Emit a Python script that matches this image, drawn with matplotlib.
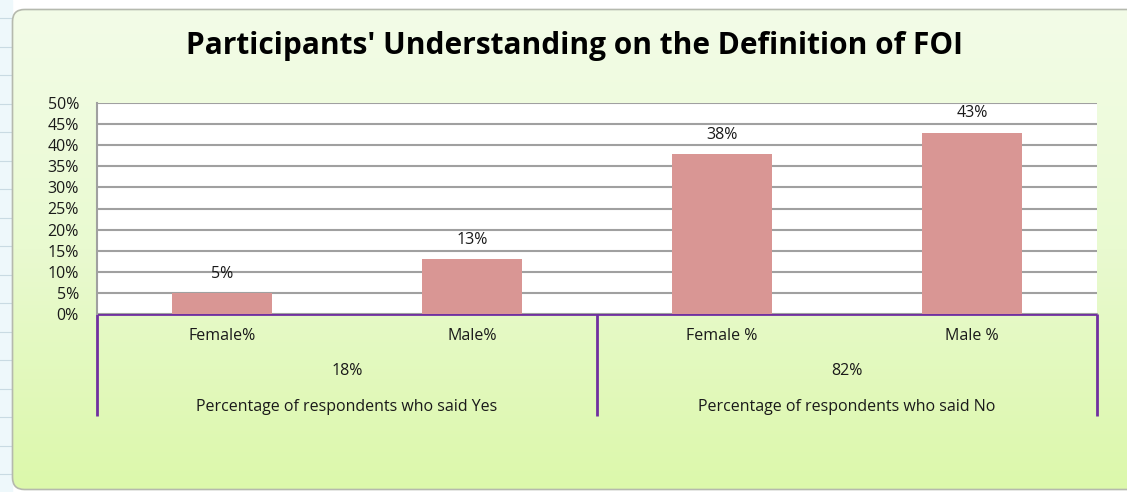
import matplotlib
matplotlib.use("Agg")
import matplotlib.pyplot as plt
import numpy as np
from matplotlib.patches import FancyBboxPatch
from matplotlib.colors import LinearSegmentedColormap

categories = ["Female%", "Male%", "Female %", "Male %"]
values = [0.05, 0.13, 0.38, 0.43]
value_labels = ["5%", "13%", "38%", "43%"]
groups = ["Percentage of respondents who said Yes", "Percentage of respondents who said No"]
group_totals = ["18%", "82%"]
yticks = [0.0, 0.05, 0.10, 0.15, 0.20, 0.25, 0.30, 0.35, 0.40, 0.45, 0.50]
title = "Participants' Understanding on the Definition of FOI"

FONT = "Open Sans"
FS = 11.5

W, H = 1127, 492
fig = plt.figure(figsize=(W / 100, H / 100), dpi=100)
fig.patch.set_facecolor("#ffffff")

# background layer (spreadsheet strip + chart area gradient)
bg = fig.add_axes([0, 0, 1, 1])
bg.set_xlim(0, W)
bg.set_ylim(H, 0)
bg.axis("off")
bg.add_patch(plt.Rectangle((0, 0), 12, H, color="#eef8fb", zorder=0))
for yy in np.arange(18, H, 28.5):
    bg.plot([0, 11], [yy, yy], color="#c9dbe3", lw=0.8, zorder=1)
cmap = LinearSegmentedColormap.from_list("g", ["#f3fce8", "#e9fad0", "#dcf8ab"])
grad = np.linspace(0, 1, 256).reshape(-1, 1)
im = bg.imshow(grad, cmap=cmap, extent=[12, W + 10, 490, 9], aspect="auto", zorder=2)
box = FancyBboxPatch((12.5, 9.5), W + 20, 480, boxstyle="round,pad=0,rounding_size=12",
                     facecolor="none", edgecolor="#b5b9ae", lw=1.2, zorder=3)
bg.add_patch(box)
im.set_clip_path(box)

fig.text(575 / W, 1 - 46 / H, title, ha="center", va="center", fontsize=21.5,
         fontweight="bold", family=FONT, color="#000000")

left, right = 97 / W, 1097 / W
top, bottom = 1 - 103 / H, 1 - 314 / H
ax = fig.add_axes([left, bottom, right - left, top - bottom])
ax.set_facecolor("#ffffff")
x = np.arange(len(categories))
bars = ax.bar(x, values, width=0.4, color="#d99694", zorder=3)
ax.set_xlim(-0.5, len(categories) - 0.5)
ax.set_ylim(0, 0.5)
ax.set_yticks(yticks)
ax.set_yticklabels([f"{int(round(v * 100))}%" for v in yticks], family=FONT,
                   fontsize=FS, color="#1a1a1a")
ax.tick_params(axis="y", length=0, pad=13)
ax.tick_params(axis="x", length=0, labelbottom=False)
ax.grid(axis="y", color="#a0a0a0", lw=1.5, zorder=1)
for s in ["top", "right"]:
    ax.spines[s].set_visible(False)
ax.spines["left"].set_color("#a0a0a0")
ax.spines["left"].set_linewidth(1.5)
ax.spines["bottom"].set_visible(False)
for xi, v, lab in zip(x, values, value_labels):
    ax.annotate(lab, (xi, v), xytext=(0, 8), textcoords="offset points",
                ha="center", va="bottom", fontsize=FS, family=FONT, color="#1a1a1a")

# multi-level category axis (drawn in bg pixel coords derived from axes)
def px(xdata):
    disp = ax.transData.transform((xdata, 0))
    return bg.transData.inverted().transform(disp)

purple = "#7030a0"
y0 = 314
y_end = 416
xl = px(-0.5)[0]
xr = px(len(categories) - 0.5)[0]
xm = px(1.5)[0]
bg.plot([xl, xr], [y0, y0], color=purple, lw=2, zorder=5, solid_capstyle="butt")
for xv in [xl, xm, xr]:
    bg.plot([xv, xv], [y0, y_end], color=purple, lw=2, zorder=5, solid_capstyle="butt")
for xi, c in zip(x, categories):
    bg.text(px(xi)[0], 336, c, ha="center", va="center", fontsize=FS, family=FONT,
            color="#1a1a1a", zorder=6)
for gi, (g, t) in enumerate(zip(groups, group_totals)):
    gx = px(gi * 2 + 0.5)[0]
    bg.text(gx, 371, t, ha="center", va="center", fontsize=FS, family=FONT,
            color="#1a1a1a", zorder=6)
    bg.text(gx, 407, g, ha="center", va="center", fontsize=FS, family=FONT,
            color="#1a1a1a", zorder=6)

fig.savefig("out.png", dpi=100)
